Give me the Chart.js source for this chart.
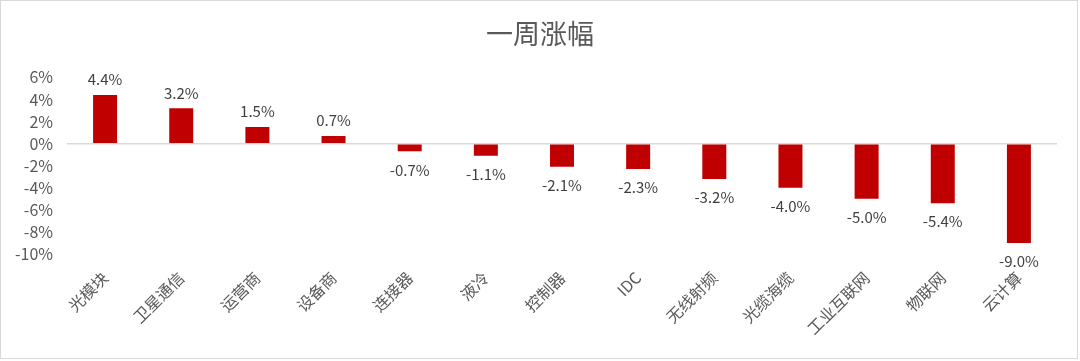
<!DOCTYPE html>
<html><head><meta charset="utf-8">
<script src="https://cdn.jsdelivr.net/npm/chart.js@4/dist/chart.umd.min.js"></script>
<style>html,body{margin:0;padding:0;background:#fff}#wrap{width:1080px;height:361px;position:relative}</style>
</head><body><div id="wrap"><canvas id="c" width="1080" height="361"></canvas></div>
<script>
const categories = ["光模块","卫星通信","运营商","设备商","连接器","液冷","控制器","IDC","无线射频","光缆海缆","工业互联网","物联网","云计算"];
const values = [4.4, 3.2, 1.5, 0.7, -0.7, -1.1, -2.1, -2.3, -3.2, -4.0, -5.0, -5.4, -9.0];
const yTicks = [6, 4, 2, 0, -2, -4, -6, -8, -10];
const titleText = "一周涨幅";

const FONT = '"Noto Sans CJK SC","Noto Sans",sans-serif';

const labelPlugin = {
  id: 'valLabels',
  afterDatasetsDraw(chart) {
    const ctx = chart.ctx;
    const meta = chart.getDatasetMeta(0);
    ctx.save();
    ctx.font = '15px ' + FONT;
    ctx.fillStyle = '#404040';
    ctx.textAlign = 'center';
    meta.data.forEach((bar, i) => {
      const v = values[i];
      const txt = v.toFixed(1) + '%';
      if (v >= 0) { ctx.textBaseline = 'bottom'; ctx.fillText(txt, bar.x, bar.y - 8); }
      else { ctx.textBaseline = 'top'; ctx.fillText(txt, bar.x, bar.y + 11); }
    });
    ctx.restore();
  }
};
const framePlugin = {
  id: 'frame',
  beforeDraw(chart) {
    const ctx = chart.ctx;
    ctx.save();
    ctx.fillStyle = '#fff';
    ctx.fillRect(0, 0, chart.width, chart.height);
    ctx.strokeStyle = '#d9d9d9';
    ctx.lineWidth = 1;
    ctx.strokeRect(0.5, 0.5, chart.width - 3, chart.height - 3);
    ctx.restore();
  }
};

new Chart(document.getElementById('c'), {
  type: 'bar',
  data: { labels: categories, datasets: [{ data: values, backgroundColor: '#C00000', borderWidth: 0, barPercentage: 0.9, categoryPercentage: 0.35 }] },
  options: {
    responsive: false, animation: false,
    layout: { padding: { left: 0, right: 0, top: 0, bottom: 0 } },
    plugins: {
      legend: { display: false }, tooltip: { enabled: false },
      title: { display: true, text: titleText, color: '#595959', font: { family: FONT, size: 27, weight: 'normal' }, padding: { top: 18, bottom: 27 } }
    },
    scales: {
      x: {
        grid: { display: false, drawTicks: false }, border: { display: false },
        ticks: { color: '#595959', font: { family: FONT, size: 16 }, maxRotation: 45, minRotation: 45, padding: 14, autoSkip: false },
        afterFit(s) { s.height = 107; }
      },
      y: {
        min: -10, max: 6,
        afterBuildTicks(s) { s.ticks = yTicks.map(v => ({ value: v })); },
        grid: { drawTicks: false, color: ctx => ctx.tick && ctx.tick.value === 0 ? '#d9d9d9' : 'rgba(0,0,0,0)', lineWidth: 1.5 },
        border: { display: false },
        ticks: { color: '#595959', font: { family: FONT, size: 16 }, padding: 14, autoSkip: false, callback: v => v + '%' },
        afterFit(s) { s.width = 67; }
      },
      yPad: {
        position: 'right', min: -10, max: 6,
        grid: { display: false, drawTicks: false }, border: { display: false },
        ticks: { display: false },
        afterFit(s) { s.width = 23; }
      }
    }
  },
  plugins: [framePlugin, labelPlugin]
});
</script></body></html>
